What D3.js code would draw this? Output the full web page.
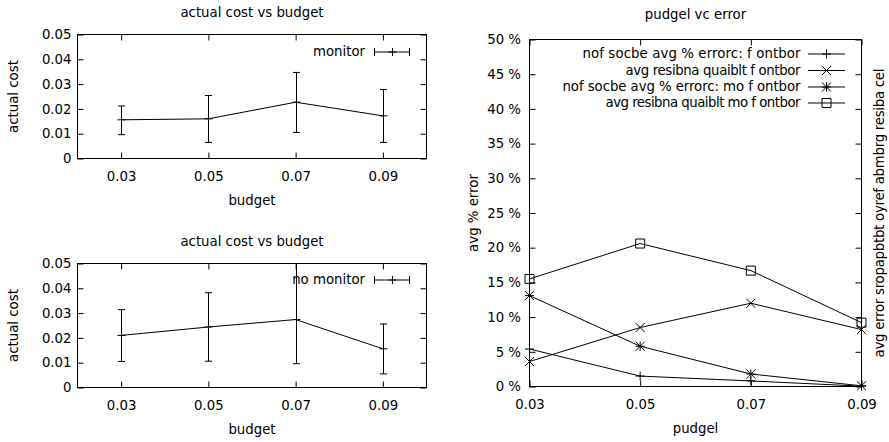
<!DOCTYPE html>
<html>
<head>
<meta charset="utf-8">
<script src="https://cdn.jsdelivr.net/npm/d3@7"></script>
<style>
  html, body { margin: 0; padding: 0; background: #fff; }
  svg { display: block; }
  text { font-family: "DejaVu Sans", sans-serif; font-size: 13.3px; fill: #000; }
</style>
</head>
<body>
<svg id="chart" width="889" height="442"></svg>
<script>
// ---- data ----
const budgets = [0.03, 0.05, 0.07, 0.09];

const monitorCost = [0.0156, 0.0160, 0.0227, 0.0172];
const monitorLow  = [0.0096, 0.0065, 0.0105, 0.0065];
const monitorHigh = [0.0212, 0.0254, 0.0347, 0.0278];

const noMonitorCost = [0.0210, 0.0244, 0.0274, 0.0156];
const noMonitorLow  = [0.0105, 0.0106, 0.0096, 0.0055];
const noMonitorHigh = [0.0314, 0.0382, 0.0520, 0.0256];

const costTicks = [0, 0.01, 0.02, 0.03, 0.04, 0.05];
const costTickLabels = ["0", "0.01", "0.02", "0.03", "0.04", "0.05"];
const budgetTicks = [0.03, 0.05, 0.07, 0.09];
const budgetTickLabels = ["0.03", "0.05", "0.07", "0.09"];

const errorTicks = [0, 5, 10, 15, 20, 25, 30, 35, 40, 45, 50];
const errorTickLabels = ["0 %", "5 %", "10 %", "15 %", "20 %", "25 %", "30 %", "35 %", "40 %", "45 %", "50 %"];

const errNames = [
  "nof socbe avg % errorc: f ontbor",
  "avg resibna quaiblt f ontbor",
  "nof socbe avg % errorc: mo f ontbor",
  "avg resibna quaiblt mo f ontbor"
];
const errMarkers = ["plus", "cross", "star", "square"];
const errSourcesMon   = [5.4, 1.5, 0.8, 0.05];
const errQualityMon   = [3.6, 8.5, 12.0, 8.2];
const errSourcesNoMon = [13.1, 5.8, 1.8, 0.1];
const errQualityNoMon = [15.5, 20.6, 16.7, 9.2];
const errSeries = [errSourcesMon, errQualityMon, errSourcesNoMon, errQualityNoMon];

// ---- drawing ----
const svg = d3.select("#chart");
const TICK = 6;
const FONT = 13.3;

function marker(g, type, x, y, r) {
  const p = d3.path();
  if (type === "plus" || type === "star") {
    p.moveTo(x - r, y); p.lineTo(x + r, y);
    p.moveTo(x, y - r); p.lineTo(x, y + r);
  }
  if (type === "cross" || type === "star") {
    p.moveTo(x - r, y - r); p.lineTo(x + r, y + r);
    p.moveTo(x - r, y + r); p.lineTo(x + r, y - r);
  }
  if (type === "square") {
    p.rect(x - r, y - r, 2 * r, 2 * r);
  }
  g.append("path").attr("d", p.toString())
    .attr("fill", "none").attr("stroke", "#000").attr("stroke-width", 1);
}

// frame with inward ticks on all four sides
function frame(g, x, y, xTicks, yTicks, xLabels, yLabels, yPad) {
  const [x0, x1] = x.range();
  const [y0, y1] = y.range();
  const ax = g.append("g");
  ax.append("g").attr("transform", `translate(0,${y0})`)
    .call(d3.axisBottom(x).tickValues(xTicks).tickSizeInner(-TICK).tickSizeOuter(0)
      .tickPadding(13).tickFormat((d, i) => xLabels[i]));
  ax.append("g").attr("transform", `translate(0,${y1})`)
    .call(d3.axisTop(x).tickValues(xTicks).tickSizeInner(-TICK).tickSizeOuter(0).tickFormat(""));
  ax.append("g").attr("transform", `translate(${x0},0)`)
    .call(d3.axisLeft(y).tickValues(yTicks).tickSizeInner(-TICK).tickSizeOuter(0)
      .tickPadding(yPad).tickFormat((d, i) => yLabels[i]));
  ax.append("g").attr("transform", `translate(${x1},0)`)
    .call(d3.axisRight(y).tickValues(yTicks).tickSizeInner(-TICK).tickSizeOuter(0).tickFormat(""));
  ax.selectAll(".domain").remove();
  ax.selectAll(".tick line").attr("stroke", "#000").attr("stroke-width", 1);
  ax.selectAll("text").attr("font-family", "DejaVu Sans, sans-serif")
    .attr("font-size", FONT).attr("fill", "#000");
  g.append("rect").attr("x", x0).attr("y", y1)
    .attr("width", x1 - x0).attr("height", y0 - y1)
    .attr("fill", "none").attr("stroke", "#000").attr("stroke-width", 1);
}

function costPanel(top, values, low, high, label, clipId) {
  const g = svg.append("g");
  const x = d3.scaleLinear().domain([0.02, 0.10]).range([77.5, 426.5]);
  const y = d3.scaleLinear().domain([0, 0.05]).range([top + 124, top]);

  g.append("text").attr("x", 252).attr("y", top - 22)
    .attr("text-anchor", "middle").attr("dominant-baseline", "central")
    .text("actual cost vs budget");

  frame(g, x, y, budgetTicks, costTicks, budgetTickLabels, costTickLabels, 6);

  g.append("text").attr("x", 252).attr("y", top + 166)
    .attr("text-anchor", "middle").attr("dominant-baseline", "central").text("budget");
  g.append("text").attr("transform", `translate(13,${top + 62}) rotate(-90)`)
    .attr("text-anchor", "middle").attr("dominant-baseline", "central").text("actual cost");

  g.append("clipPath").attr("id", clipId).append("rect")
    .attr("x", 77.5).attr("y", top).attr("width", 349).attr("height", 124);
  const plot = g.append("g").attr("clip-path", `url(#${clipId})`);

  plot.append("path")
    .attr("d", d3.line().x((d, i) => x(budgets[i])).y(d => y(d))(values))
    .attr("fill", "none").attr("stroke", "#000").attr("stroke-width", 1);

  budgets.forEach((b, i) => {
    const cx = Math.round(x(b)) + 0.5;
    const p = d3.path();
    p.moveTo(cx, y(low[i])); p.lineTo(cx, y(high[i]));
    p.moveTo(cx - 3.5, y(low[i])); p.lineTo(cx + 3.5, y(low[i]));
    p.moveTo(cx - 3.5, y(high[i])); p.lineTo(cx + 3.5, y(high[i]));
    plot.append("path").attr("d", p.toString())
      .attr("fill", "none").attr("stroke", "#000").attr("stroke-width", 1);
    marker(g, "plus", cx, y(values[i]), 4);
  });

  // key
  const ky = top + (label === "monitor" ? 17 : 16);
  g.append("text").attr("x", 365).attr("y", ky)
    .attr("text-anchor", "end").attr("dominant-baseline", "central").text(label);
  const k = d3.path();
  k.moveTo(374, ky + 0.5); k.lineTo(410, ky + 0.5);
  k.moveTo(374.5, ky - 3.5); k.lineTo(374.5, ky + 4.5);
  k.moveTo(409.5, ky - 3.5); k.lineTo(409.5, ky + 4.5);
  g.append("path").attr("d", k.toString())
    .attr("fill", "none").attr("stroke", "#000").attr("stroke-width", 1);
  marker(g, "plus", 392.5, ky + 0.5, 4);
}

costPanel(34.5, monitorCost, monitorLow, monitorHigh, "monitor", "clipTop");
costPanel(263.5, noMonitorCost, noMonitorLow, noMonitorHigh, "no monitor", "clipBottom");

// ---- error vs budget panel ----
(function errorPanel() {
  const g = svg.append("g");
  const x = d3.scaleLinear().domain([0.03, 0.09]).range([529.5, 861.5]);
  const y = d3.scaleLinear().domain([0, 50]).range([386.5, 39.5]);

  g.append("text").attr("x", 695.5).attr("y", 14)
    .attr("text-anchor", "middle").attr("dominant-baseline", "central").text("pudgel vc error");

  frame(g, x, y, budgetTicks, errorTicks, budgetTickLabels, errorTickLabels, 8.5);

  g.append("text").attr("x", 695.5).attr("y", 428)
    .attr("text-anchor", "middle").attr("dominant-baseline", "central").text("pudgel");
  g.append("text").attr("transform", `translate(473,213) rotate(-90)`)
    .attr("text-anchor", "middle").attr("dominant-baseline", "central").text("avg % error");
  g.append("text").attr("transform", `translate(879,213) rotate(-90)`)
    .attr("text-anchor", "middle").attr("dominant-baseline", "central")
    .attr("textLength", 289).attr("lengthAdjust", "spacing")
    .text("avg error sropapbtbt oyref abmbrg resiba cel");

  const line = d3.line().x((d, i) => x(budgets[i])).y(d => y(d));
  errSeries.forEach((vals, s) => {
    g.append("path").attr("d", line(vals))
      .attr("fill", "none").attr("stroke", "#000").attr("stroke-width", 1);
    vals.forEach((v, i) => marker(g, errMarkers[s], x(budgets[i]), y(v), 4.5));
  });

  // key
  const rows = [53.5, 70, 86.5, 102.5];
  const keyWidths = [218, 175, 238, 195];
  errNames.forEach((name, s) => {
    const ky = rows[s];
    g.append("text").attr("x", 800.5 - keyWidths[s]).attr("y", ky)
      .attr("text-anchor", "start").attr("dominant-baseline", "central")
      .attr("textLength", keyWidths[s]).attr("lengthAdjust", "spacing").text(name);
    g.append("line").attr("x1", 808).attr("x2", 845)
      .attr("y1", ky + 0.5).attr("y2", ky + 0.5)
      .attr("stroke", "#000").attr("stroke-width", 1);
    marker(g, errMarkers[s], 826.5, ky + 0.5, 4.5);
  });
})();
</script>
</body>
</html>
